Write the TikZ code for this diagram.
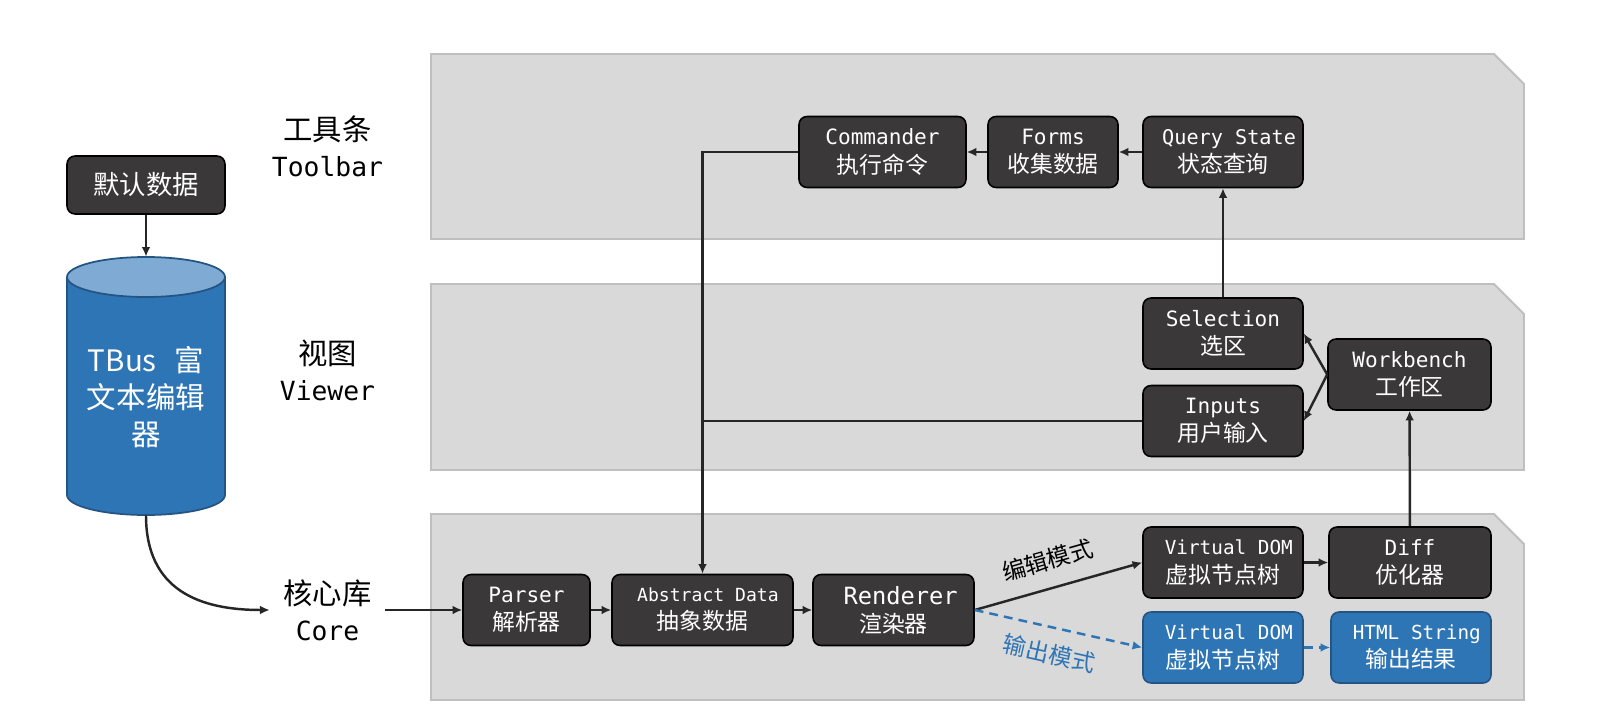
\documentclass[tikz,border=0pt]{standalone}
\usepackage{fontspec}
\setmainfont{Noto Sans CJK SC}
\setmonofont{DejaVu Sans Mono}
\usetikzlibrary{arrows.meta,positioning}
\definecolor{panelgray}{RGB}{217,217,217}
\definecolor{panelline}{RGB}{191,191,191}
\definecolor{boxdark}{RGB}{58,56,56}
\definecolor{boxblue}{RGB}{46,117,182}
\definecolor{blueline}{RGB}{36,84,130}
\definecolor{cyltop}{RGB}{127,170,212}
\definecolor{linedark}{RGB}{38,38,38}
\newcommand{\en}[1][12]{\ttfamily\fontsize{#1}{16}\selectfont}

\begin{document}
\begin{tikzpicture}[
    x=0.02cm, y=-0.02cm,
    panel/.style={fill=panelgray, draw=panelline, line width=1.1pt},
    layerlabel/.style={align=center, minimum width=2.3cm, inner sep=0pt, font=\fontsize{16.7}{20.5}\selectfont},
    darkbox/.style={rectangle, draw=black, line width=0.9pt, fill=boxdark, text=white, rounded corners=0.16cm, minimum height=1.42cm, inner sep=0pt, align=center, font=\fontsize{13}{16}\selectfont},
    bluebox/.style={darkbox, draw=blueline, fill=boxblue},
    arrow/.style={line width=1.4pt, draw=linedark, -{Latex[length=5.5pt,width=5pt]}},
    link/.style={line width=1.4pt, draw=linedark},
    outarrow/.style={arrow, draw=boxblue, dash pattern=on 5pt off 3.5pt},
    modelabel/.style={sloped, inner sep=1pt, font=\fontsize{13.3}{16}\selectfont}
]
\useasboundingbox (0,0) rectangle (1600,723);

% Layer panels
\draw[panel] (431,54) -- (1494,54) -- (1524,84) -- (1524,239) -- (431,239) -- cycle;
\draw[panel] (431,284) -- (1494,284) -- (1524,314) -- (1524,470) -- (431,470) -- cycle;
\draw[panel] (431,514) -- (1494,514) -- (1524,544) -- (1524,700) -- (431,700) -- cycle;

% Layer names
\node[layerlabel] (toolbar) at (327.5,146.5) {工具条\\{\ttfamily\fontsize{15}{20.5}\selectfont Toolbar}};
\node[layerlabel] (viewer) at (327.5,370) {视图\\{\ttfamily\fontsize{15}{20.5}\selectfont Viewer}};
\node[layerlabel] (core) at (327.5,610) {核心库\\{\ttfamily\fontsize{15}{20.5}\selectfont Core}};

% Default data and editor
\node[darkbox, minimum width=3.16cm, minimum height=1.16cm, font=\fontsize{15}{18}\selectfont] (defdata) at (146,185) {默认数据};

\fill[boxblue] (67,277) -- (67,495) arc[start angle=180, end angle=360, x radius=1.58cm, y radius=0.4cm] -- (225,277) -- cycle;
\draw[blueline, line width=1pt] (67,277) -- (67,495) arc[start angle=180, end angle=360, x radius=1.58cm, y radius=0.4cm] -- (225,277);
\filldraw[fill=cyltop, draw=blueline, line width=1pt] (146,277) ellipse[x radius=1.58cm, y radius=0.4cm];
\node[minimum width=3.16cm, minimum height=5.16cm, inner sep=0pt] (editor) at (146,386) {};
\node[text=white, align=center, font=\fontsize{16.8}{21}\selectfont] (editortext) at (146,397) {TBus\hspace{.6em}富\\文本编辑\\器};

\draw[arrow] (defdata) -- (editor);
\draw[arrow] (editor.south) .. controls +(0,75) and +(-70,0) .. (core.west);

% Toolbar
\node[darkbox, minimum width=3.34cm] (cmd) at (882.5,152) {{\en Commander}\\执行命令};
\node[darkbox, minimum width=2.6cm] (forms) at (1053,152) {{\en Forms}\\收集数据};
\node[darkbox, minimum width=3.2cm] (query) at (1223,152) {{\en[11.5] Query State}\\状态查询};

% Viewer
\node[darkbox, minimum width=3.2cm] (selection) at (1223,333.5) {{\en Selection}\\选区};
\node[darkbox, minimum width=3.2cm] (inputs) at (1223,421) {{\en Inputs}\\用户输入};
\node[darkbox, minimum width=3.26cm] (workbench) at (1409.5,374.5) {{\en Workbench}\\工作区};

% Core
\node[darkbox, minimum width=2.54cm] (parser) at (526.5,610) {{\en Parser}\\解析器};
\node[darkbox, minimum width=3.62cm] (absdata) at (702.5,610) {{\en[10.3] Abstract Data}\\抽象数据};
\node[darkbox, minimum width=3.22cm] (renderer) at (893.5,610) {{\en[13.5] Renderer}\\渲染器};
\node[darkbox, minimum width=3.2cm] (vdom) at (1223,562.5) {{\en[11] Virtual DOM}\\虚拟节点树};
\node[darkbox, minimum width=3.24cm] (diff) at (1410,562.5) {{\en Diff}\\优化器};
\node[bluebox, minimum width=3.2cm] (vdomout) at (1223,647.5) {{\en[11] Virtual DOM}\\虚拟节点树};
\node[bluebox, minimum width=3.2cm] (htmlout) at (1411,647.5) {{\en[11] HTML String}\\输出结果};

% Connections
\draw[arrow] (forms) -- (cmd);
\draw[arrow] (query) -- (forms);
\draw[arrow] (cmd.west) -| (absdata.north);
\draw[link] (inputs.west) -- (inputs.west -| absdata.north);
\draw[arrow] (selection) -- (query);
\draw[arrow] (workbench.west) -- (selection.east);
\draw[arrow] (workbench.west) -- (inputs.east);
\draw[arrow] (diff) -- (workbench);

\draw[arrow] (core.east) -- (parser.west);
\draw[arrow] (parser) -- (absdata);
\draw[arrow] (absdata) -- (renderer);
\draw[arrow] (renderer.east) -- node[modelabel, above=8pt, pos=0.48] {编辑模式} (vdom.west);
\draw[outarrow] (renderer.east) -- node[modelabel, below=7pt, pos=0.48, text=boxblue] {输出模式} (vdomout.west);
\draw[arrow] (vdom) -- (diff);
\draw[outarrow] (vdomout) -- (htmlout);

\end{tikzpicture}
\end{document}
